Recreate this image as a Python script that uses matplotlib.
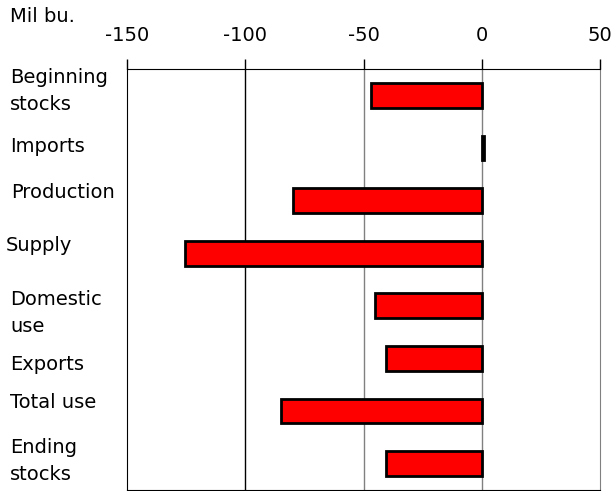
import matplotlib
matplotlib.use("Agg")
import matplotlib.pyplot as plt

plt.rcParams['font.family'] = ['DejaVu Sans']

# change in supply and use, million bushels
categories = ["Beginning\nstocks", "Imports", "Production", "Supply",
              "Domestic\nuse", "Exports", "Total use", "Ending\nstocks"]
changes = [-47, 1.0, -80, -125.5, -45, -40.5, -85, -40.5]
bar_colors = ["red", "black", "red", "red", "red", "red", "red", "red"]
xticks = [-150, -100, -50, 0, 50]

# label placement: left edge and baseline of the last line, in pixels
label_x = [10, 10, 11, 6, 10, 10, 10, 10]
label_base = [110, 152, 198, 251, 332, 370, 408, 480]

W, H = 615, 491
fig = plt.figure(figsize=(W / 100, H / 100), dpi=100)
ax = fig.add_axes([127 / W, 1 - 490 / H, 473 / W, 421 / H])

ypos = list(range(len(categories)))
ax.barh(ypos, changes, height=0.47, color=bar_colors,
        edgecolor="black", linewidth=2, zorder=3)

ax.set_xlim(-150, 50)
ax.set_ylim(len(categories) - 0.5, -0.5)

# vertical grid lines
for x in xticks[1:-1]:
    ax.axvline(x, color="black" if x == -100 else "#808080", lw=1, zorder=1)

ax.xaxis.tick_top()
ax.set_xticks(xticks)
ax.set_xticklabels([str(v) for v in xticks], fontsize=14)
ax.tick_params(axis="x", direction="out", length=7, width=1, pad=10)
ax.set_yticks([])
for side in ["top", "left", "bottom"]:
    ax.spines[side].set_color("black")
ax.spines["right"].set_color("#808080")

# category labels at the left edge of the figure
for lx, lb, label in zip(label_x, label_base, categories):
    fig.text(lx / W, 1 - lb / H, label, ha="left", va="baseline",
             fontsize=14, linespacing=1.55)

fig.text(10 / W, 1 - 22 / H, "Mil bu.", ha="left", va="baseline", fontsize=14)

fig.savefig("out.png", dpi=100)
